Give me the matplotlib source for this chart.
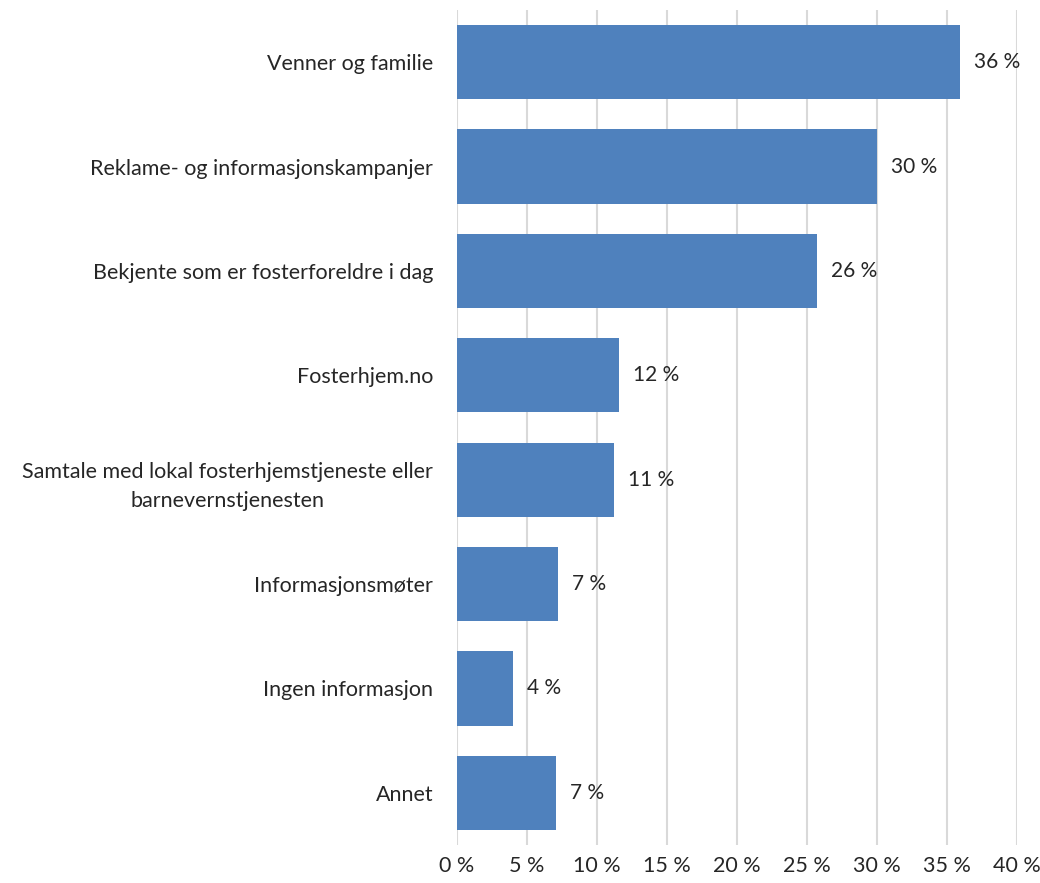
import matplotlib.pyplot as plt
from matplotlib.ticker import FuncFormatter

categories = [
    "Venner og familie",
    "Reklame- og informasjonskampanjer",
    "Bekjente som er fosterforeldre i dag",
    "Fosterhjem.no",
    "Samtale med lokal fosterhjemstjeneste eller\nbarnevernstjenesten",
    "Informasjonsmøter",
    "Ingen informasjon",
    "Annet",
]
values = [35.9, 30.0, 25.7, 11.6, 11.2, 7.2, 4.0, 7.1]
labels = ["36 %", "30 %", "26 %", "12 %", "11 %", "7 %", "4 %", "7 %"]
xticks = [0, 5, 10, 15, 20, 25, 30, 35, 40]

plt.rcParams['font.family'] = ['Lato', 'DejaVu Sans']

fig = plt.figure(figsize=(10.4, 8.83), dpi=100)
ax = fig.add_axes([0.4394, 0.043, 0.5385, 0.9457])

ypos = list(range(len(categories)))
ax.barh(ypos, values, height=0.71, color='#4F81BD', zorder=3)

for y, v, lab in zip(ypos, values, labels):
    ax.text(v + 1.0, y, lab, va='center', ha='left', fontsize=15, color='#262626')

ax.set_xlim(0, 40)
ax.set_ylim(len(categories) - 0.5, -0.5)
ax.set_xticks(xticks)
ax.xaxis.set_major_formatter(FuncFormatter(lambda x, p: f"{int(x)} %"))
ax.set_yticks(ypos)
ax.set_yticklabels(categories, multialignment='center', linespacing=1.6)
ax.tick_params(axis='both', length=0, labelsize=15.5, colors='#262626')
ax.tick_params(axis='x', pad=8)
ax.tick_params(axis='y', pad=17)
ax.grid(axis='x', color='#D9D9D9', linewidth=1.5, zorder=0)
for s in ax.spines.values():
    s.set_visible(False)

fig.savefig('out.png', dpi=100, facecolor='white')
